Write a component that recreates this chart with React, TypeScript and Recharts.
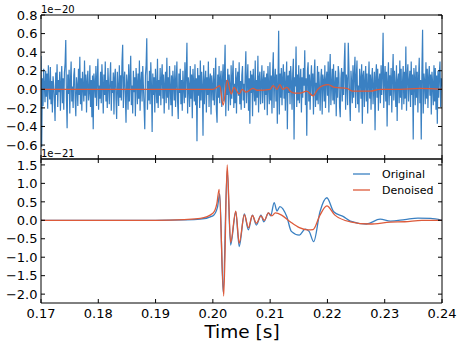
import { LineChart, Line, XAxis, YAxis } from 'recharts'

const W = 463
const H = 348
const BLUE = '#3A80C2'
const ORANGE = '#DD5A3A'
const FONT = 'DejaVu Sans, sans-serif'

const timeTicks = [0.17, 0.18, 0.19, 0.2, 0.21, 0.22, 0.23, 0.24]
const topTicks = [-0.6, -0.4, -0.2, 0, 0.2, 0.4, 0.6, 0.8]
const bottomTicks = [-2, -1.5, -1, -0.5, 0, 0.5, 1, 1.5]

// raw strain in units of 1e-22 (hundredths of the 1e-20 axis), evenly sampled 0.17 s .. 0.24 s
const rawStrain = [
  36, -62, 12, -18, 22, 6, -14, 20, -8, 17, -21, 26, 3, -11, 24, -16, 9, -25, 14, 4, -12, -34, 18, -6, 27, -19, 10, -3, 19, -23,
  7, 25, -15, 12, -22, 18, 28, 53, -9, -42, 16, -5, 21, -26, 9, 30, -13, 3, -20, 15, 23, -10, -29, 13, 4, -18, 22, -6, 35, -16,
  12, -23, 19, 2, -13, 31, -7, 16, -25, 9, 20, -12, -3, 26, -19, 10, -30, 15, -43, 17, 6, -9, 25, -18, 13, 33, -22, 4, -10, 19,
  -15, 27, 7, -26, 16, -6, 30, -13, 10, -20, 23, 3, -16, 12, 29, -23, 9, -4, 18, -27, 13, 22, -10, -32, 19, 2, -18, 26, -9, 15,
  -12, 30, 48, -20, 10, 19, -7, -36, 16, 6, -22, 27, -13, 12, 36, -17, 4, -26, 20, -3, 13, -29, 23, 9, -16, 17, -10, 31, -23, 7,
  19, -13, 25, 3, -19, -43, 15, 26, 55, -22, 9, -12, 20, -16, 29, 4, -46, 17, -6, 13, -25, 22, 2, -15, 33, -20, 10, -7, 23, -17,
  12, 27, -10, 16, -26, 6, 19, -15, 34, -9, 13, -22, 25, 3, -17, 15, -29, 20, 7, -12, 26, -19, 9, 30, -13, -32, 17, -4, 22, -16,
  10, -23, 20, 2, -15, 29, -9, 17, 50, -26, 13, 4, -19, 25, -10, 16, -31, 22, 6, -13, 27, -17, 12, -56, 23, -7, 15, -20, 31, -12,
  19, 4, -50, 26, -16, 9, 20, -25, 13, -6, 30, -19, 10, 17, -27, 15, 3, -12, 23, -17, 7, 34, -22, -36, 16, -9, 25, -15, 12, 20,
  -19, 9, 27, -13, 17, 48, -29, 10, -6, 22, -23, 16, 3, -17, 26, -10, 13, 31, -20, 6, -15, 23, -26, 12, 19, -7, 29, -16, 9, -22,
  15, 25, -12, 6, -20, 17, 41, -15, 9, 27, -23, 12, -37, 20, -4, 16, -29, 22, 3, -13, 31, -17, 10, -9, 36, -25, 13, 19, -16, 7,
  26, -15, 9, 20, -22, 13, -6, 17, -28, 25, 4, -16, 29, -12, 15, -26, 19, 40, -20, 10, 22, -13, 16, -37, 6, 63, -27, 17, -9, 23,
  -17, 12, 27, -10, 19, -23, 7, 30, -43, 15, -4, 20, -16, 25, 9, -22, 17, 33, -54, 13, 3, 46, -19, 16, -12, 26, -15, 10, 22, -25,
  13, -9, 23, 4, 42, -17, 12, -50, 20, 29, -13, 16, -22, 9, 26, -6, 17, -27, 15, 32, -19, 7, -12, 25, -16, 19, 2, -23, 13, 22,
  -27, 16, 9, -13, 26, -20, 10, 19, -7, 30, -25, 15, 38, -17, 6, 22, -12, 27, -16, 4, 20, -29, 13, -9, 25, 17, -19, -30, 12, 23,
  -13, 19, -6, 29, 50, -22, 16, 10, -17, 50, 23, -12, -34, 20, 7, -15, 26, -9, 17, 35, -20, 13, 31, -16, 4, -25, 22, 12, -10, 27,
  -37, 15, 20, -19, 9, 25, -13, 17, -26, 6, 30, -10, 16, -22, 12, 23, -16, 3, 19, -44, 13, 27, -9, 22, -23, 10, 17, -15, 26, -6,
  16, 61, -20, 12, 25, -13, 19, -40, 9, 29, -17, 15, -7, 23, -25, 13, 38, -12, 20, 4, -19, 26, -34, 10, 17, -15, 31, -9, 22, -22,
  7, 25, -16, 19, -10, 46, -23, 15, 27, -13, 9, 20, -19, 30, -6, 16, -54, 23, 12, -17, 26, -9, 19, -25, 13, 34, -15, 10, -54, 22,
  64, -26, 17, 9, -16, 29, -10, 22, -20, 13, 25, -7, 16, -27, 19, 6, -17, 26, -13, 23, -22, 15, -37, 20, -9, 17, 30, -19, 12, 3,
]

// denoised strain shown in the top panel (x1e-20)
const denoisedTopT = [
  0.17, 0.2, 0.2009, 0.2012, 0.2018, 0.2025, 0.2032, 0.2037, 0.2046, 0.2051, 0.2058, 0.207, 0.2077, 0.21,
  0.2105, 0.2112, 0.2117, 0.2122, 0.2129, 0.2135, 0.2143, 0.2152, 0.2164, 0.2175, 0.2183, 0.2192, 0.2201,
  0.2213, 0.2234, 0.2244, 0.2274, 0.2292, 0.2327, 0.2361, 0.24,
]
const denoisedTopV = [
  0, 0, 0.03, 0.04, -0.17, 0.1, -0.05, 0.02, -0.05, 0, -0.03, 0.01, -0.01, 0,
  0.04, 0, 0.05, 0, 0.02, -0.02, -0.04, -0.04, -0.02, -0.07, 0, 0.04, 0.05,
  0.02, 0.01, -0.02, -0.02, 0, 0, 0.01, 0,
]

// bottom panel (x1e-21)
const originalT = [
  0.17, 0.19, 0.195, 0.1978, 0.2, 0.2008, 0.2012, 0.2018, 0.2025, 0.2031, 0.204, 0.2046, 0.2055, 0.2062,
  0.2069, 0.2076, 0.2084, 0.2089, 0.2097, 0.2101, 0.2107, 0.2112, 0.2117, 0.2129, 0.2137, 0.2151, 0.2161,
  0.2168, 0.2176, 0.2187, 0.2199, 0.2211, 0.2228, 0.224, 0.2268, 0.2292, 0.231, 0.2335, 0.2358, 0.238, 0.24,
]
const originalV = [
  0, 0, 0.01, 0.03, 0.12, 0.35, 0.72, -1.95, 1.35, -0.67, 0.23, -0.71, 0.17, -0.26,
  0.14, -0.13, 0.14, -0.04, 0.2, 0.12, 0.48, 0.25, 0.37, 0.1, -0.3, -0.4, -0.24,
  -0.3, -0.58, 0.23, 0.61, 0.23, 0.1, -0.02, -0.1, 0.03, -0.02, 0.02, 0.06, 0.05, 0,
]
const denoisedT = [
  0.17, 0.19, 0.195, 0.1978, 0.2, 0.2007, 0.2011, 0.2019, 0.2025, 0.2031, 0.204, 0.2046, 0.2055, 0.2062,
  0.2069, 0.2076, 0.2084, 0.209, 0.2097, 0.2103, 0.2109, 0.212, 0.2135, 0.2151, 0.2165, 0.2175, 0.2187,
  0.2199, 0.2213, 0.224, 0.2274, 0.231, 0.2335, 0.2365, 0.24,
]
const denoisedV = [
  0, 0, 0.02, 0.05, 0.19, 0.45, 0.84, -2.05, 1.5, -0.6, 0.25, -0.62, 0.15, -0.2,
  0.13, -0.08, 0.12, 0, 0.2, 0.12, 0.2, 0.14, -0.04, -0.2, -0.26, -0.25, 0.14,
  0.39, 0.14, -0.04, -0.1, -0.05, -0.04, 0, 0,
]

const rawData = rawStrain.map((v, i) => ({ t: 0.17 + (i * 0.07) / (rawStrain.length - 1), v: v / 100 }))
const pair = (ts: number[], vs: number[]) => ts.map((t, i) => ({ t, v: vs[i] }))
const denoisedTopData = pair(denoisedTopT, denoisedTopV)
const originalData = pair(originalT, originalV)
const denoisedData = pair(denoisedT, denoisedV)

const TL = 4
const fmt = (v: number, d: number) => (v < -1e-9 ? '\u2212' : '') + Math.abs(v).toFixed(d)

function LeftTick(props: any) {
  const { x, y, payload, digits } = props
  return (
    <g>
      <line x1={x} y1={y} x2={x + TL} y2={y} stroke="#000" />
      <text x={x - 3.5} y={y} dy="0.36em" textAnchor="end" fontSize={13} fontFamily={FONT} fill="#000">
        {fmt(payload.value, digits)}
      </text>
    </g>
  )
}
function RightTick(props: any) {
  const { x, y } = props
  return <line x1={x} y1={y} x2={x - TL} y2={y} stroke="#000" />
}
function TopTick(props: any) {
  const { x, y } = props
  return <line x1={x} y1={y} x2={x} y2={y + TL} stroke="#000" />
}
function BottomTick(props: any) {
  const { x, y, payload, label } = props
  return (
    <g>
      <line x1={x} y1={y} x2={x} y2={y - TL} stroke="#000" />
      {label && (
        <text x={x} y={y + 15} textAnchor="middle" fontSize={13} fontFamily={FONT} fill="#000">
          {payload.value.toFixed(2)}
        </text>
      )}
    </g>
  )
}

function Frame({ domain, ticks, digits, xLabels }: any) {
  const axisLine = { stroke: '#000', strokeWidth: 1 }
  return [
    <XAxis
      key="xb"
      dataKey="t"
      type="number"
      domain={[0.17, 0.24]}
      ticks={timeTicks}
      interval={0}
      allowDataOverflow
      height={1}
      tickSize={0}
      tickMargin={0}
      axisLine={axisLine}
      tick={(p: any) => <BottomTick {...p} label={xLabels} />}
    />,
    <XAxis
      key="xt"
      xAxisId="top"
      orientation="top"
      dataKey="t"
      type="number"
      domain={[0.17, 0.24]}
      ticks={timeTicks}
      interval={0}
      allowDataOverflow
      height={1}
      tickSize={0}
      tickMargin={0}
      axisLine={axisLine}
      tick={(p: any) => <TopTick {...p} />}
    />,
    <YAxis
      key="yl"
      type="number"
      domain={domain}
      ticks={ticks}
      interval={0}
      allowDataOverflow
      width={41}
      tickSize={0}
      tickMargin={0}
      axisLine={axisLine}
      tick={(p: any) => <LeftTick {...p} digits={digits} />}
    />,
    <YAxis
      key="yr"
      yAxisId="right"
      orientation="right"
      type="number"
      domain={domain}
      ticks={ticks}
      interval={0}
      allowDataOverflow
      width={1}
      tickSize={0}
      tickMargin={0}
      axisLine={axisLine}
      tick={(p: any) => <RightTick {...p} />}
    />,
  ]
}

export default function App() {
  return (
    <div style={{ position: 'absolute', left: 0, top: 0, width: W, height: H, background: '#fff' }}>
      <div style={{ position: 'absolute', left: 0, top: 0 }}>
        <LineChart width={W} height={H} margin={{ top: 14, right: 20, bottom: H - 160, left: 0 }}>
          {Frame({ domain: [-0.75, 0.8], ticks: topTicks, digits: 1, xLabels: false })}
          <Line data={rawData} dataKey="v" type="linear" stroke={BLUE} strokeWidth={1.2} dot={false} isAnimationActive={false} />
          <Line data={denoisedTopData} dataKey="v" type="monotone" stroke={ORANGE} strokeWidth={1.3} dot={false} isAnimationActive={false} />
        </LineChart>
      </div>
      <div style={{ position: 'absolute', left: 0, top: 0 }}>
        <LineChart width={W} height={H} margin={{ top: 158, right: 20, bottom: 44, left: 0 }}>
          {Frame({ domain: [-2.24, 1.66], ticks: bottomTicks, digits: 1, xLabels: true })}
          <Line data={originalData} dataKey="v" type="monotone" stroke={BLUE} strokeWidth={1.3} dot={false} isAnimationActive={false} />
          <Line data={denoisedData} dataKey="v" type="monotone" stroke={ORANGE} strokeWidth={1.3} dot={false} isAnimationActive={false} />
        </LineChart>
      </div>
      <svg width={W} height={H} style={{ position: 'absolute', left: 0, top: 0, pointerEvents: 'none' }}>
        <text x={41} y={13} fontSize={10} fontFamily={FONT} fill="#000">1e{'\u2212'}20</text>
        <text x={41} y={157} fontSize={10} fontFamily={FONT} fill="#000">1e{'\u2212'}21</text>
        <text x={242} y={338} textAnchor="middle" fontSize={18.5} fontFamily={FONT} fill="#000">Time [s]</text>
        <line x1={353} y1={174} x2={370} y2={174} stroke={BLUE} strokeWidth={1.3} />
        <text x={382} y={178} fontSize={11} fontFamily={FONT} fill="#000">Original</text>
        <line x1={353} y1={190} x2={370} y2={190} stroke={ORANGE} strokeWidth={1.3} />
        <text x={382} y={194} fontSize={11} fontFamily={FONT} fill="#000">Denoised</text>
      </svg>
    </div>
  )
}
